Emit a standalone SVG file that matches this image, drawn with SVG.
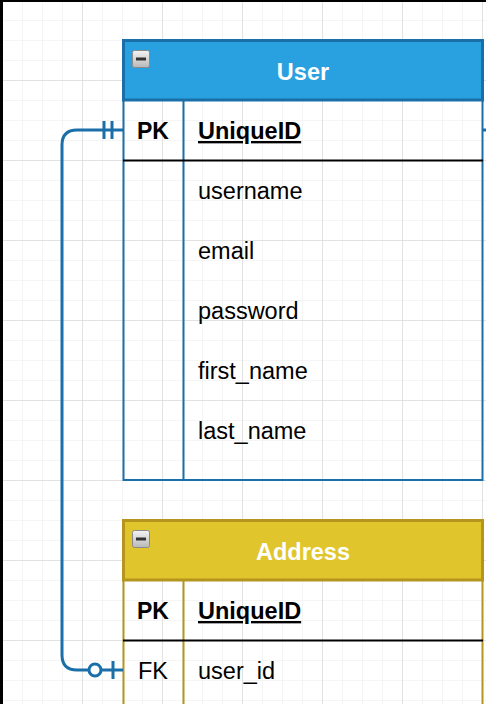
<svg xmlns="http://www.w3.org/2000/svg" width="486" height="704" viewBox="0 0 486 704">
<defs>
<pattern id="minor" width="20" height="20" patternUnits="userSpaceOnUse" x="2" y="0">
<path d="M0 0H20M0 0V20" fill="none" stroke="#ebebeb" stroke-width="1"/>
</pattern>
<pattern id="major" width="80" height="80" patternUnits="userSpaceOnUse" x="2" y="0">
<path d="M0 0H80M0 0V80" fill="none" stroke="#d0d0d0" stroke-width="1"/>
</pattern>
<linearGradient id="ig" x1="0" y1="0" x2="0" y2="1">
<stop offset="0" stop-color="#f4f4f4"/>
<stop offset="1" stop-color="#b8b8b8"/>
</linearGradient>
<g id="icon">
<rect x="0.5" y="0.5" width="17" height="17" rx="2" fill="url(#ig)" stroke="#8a8a8a" stroke-width="1"/>
<rect x="4" y="7.5" width="10" height="3" fill="#333"/>
</g>
</defs>
<style>
.hdr{font-family:"Liberation Sans",Arial,sans-serif;font-weight:bold;font-size:23.5px;fill:#ffffff;text-anchor:middle}
.key{font-family:"Liberation Sans",Arial,sans-serif;font-weight:bold;font-size:23px;fill:#000;text-anchor:middle}
.pk{font-family:"Liberation Sans",Arial,sans-serif;font-weight:bold;font-size:23.5px;fill:#000;text-decoration:underline}
.fld{font-family:"Liberation Sans",Arial,sans-serif;font-size:23.5px;fill:#000}
.fkl{font-family:"Liberation Sans",Arial,sans-serif;font-size:23.5px;fill:#000;text-anchor:middle}
.conn{fill:none;stroke:#1a6fa8;stroke-width:3}
</style>
<rect width="486" height="704" fill="#ffffff"/>
<rect width="486" height="704" fill="url(#minor)"/>
<rect width="486" height="704" fill="url(#major)"/>
<rect x="0" y="0" width="486" height="2" fill="#000"/>
<rect x="0" y="0" width="3" height="704" fill="#000"/>

<g id="User">
<rect x="123.5" y="40.5" width="359" height="59.5" fill="#29a1e0" stroke="#1a6fa8" stroke-width="3"/>
<use href="#icon" x="132" y="50"/>
<text class="hdr" x="303" y="80">User</text>
<path d="M123.5 100V480H482.5V100" fill="none" stroke="#1a6fa8" stroke-width="2"/>
<line x1="183.5" y1="100" x2="183.5" y2="480" stroke="#1a6fa8" stroke-width="2"/>
<line x1="123" y1="160.5" x2="483" y2="160.5" stroke="#000" stroke-width="2"/>
<text class="key" x="153" y="139">PK</text>
<text class="pk" x="198" y="139">UniqueID</text>
<text class="fld" x="198" y="199">username</text>
<text class="fld" x="198" y="259">email</text>
<text class="fld" x="198" y="319">password</text>
<text class="fld" x="198" y="379">first_name</text>
<text class="fld" x="198" y="439">last_name</text>
</g>

<g id="Address">
<rect x="123.5" y="520.5" width="359" height="59.5" fill="#e0c62c" stroke="#b5951e" stroke-width="3"/>
<use href="#icon" x="132" y="530"/>
<text class="hdr" x="303" y="560">Address</text>
<path d="M123.5 580V704M482.5 580V704" fill="none" stroke="#b5951e" stroke-width="2"/>
<line x1="183.5" y1="580" x2="183.5" y2="704" stroke="#b5951e" stroke-width="2"/>
<line x1="123" y1="640.5" x2="483" y2="640.5" stroke="#000" stroke-width="2"/>
<text class="key" x="153" y="619">PK</text>
<text class="pk" x="198" y="619">UniqueID</text>
<text class="fkl" x="153" y="679">FK</text>
<text class="fld" x="198" y="679">user_id</text>
</g>

<g id="connectors">
<path class="conn" d="M123 130H77Q62 130 62 145V655Q62 670 77 670H88"/>
<path class="conn" d="M104 121V139M112 121V139"/>
<circle cx="95" cy="670" r="6" class="conn" style="fill:#ffffff"/>
<path class="conn" d="M101 670H123M113 661V679"/>
<path class="conn" d="M483 130H486"/>
</g>
</svg>
